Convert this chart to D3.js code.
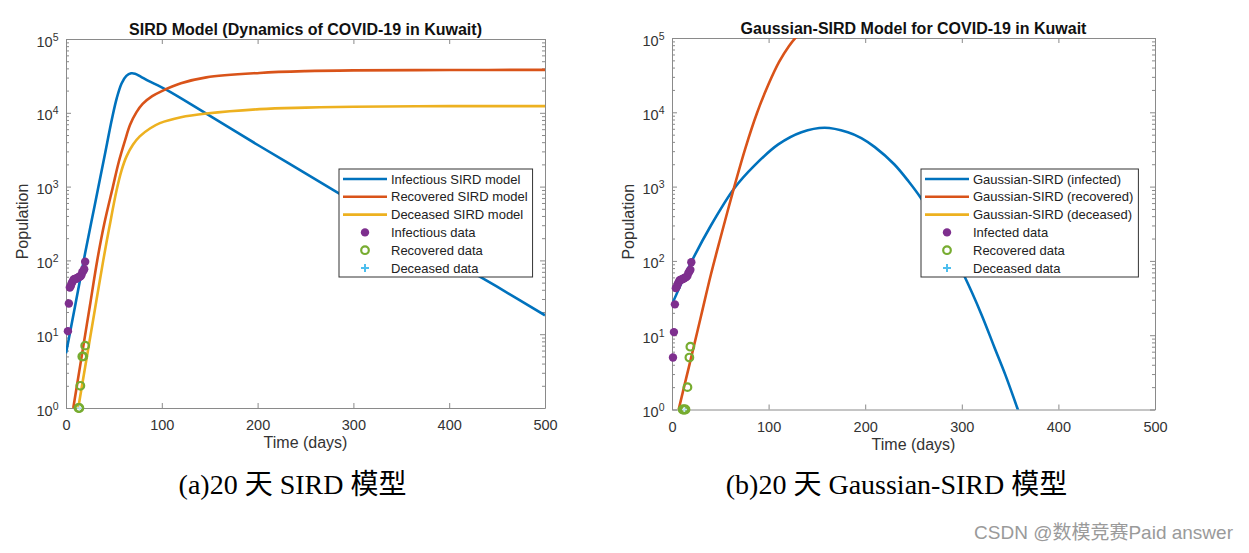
<!DOCTYPE html>
<html><head><meta charset="utf-8">
<script src="https://cdn.jsdelivr.net/npm/d3@7"></script>
<style>
html,body{margin:0;padding:0;background:#fff;}
svg{display:block;}
</style></head>
<body>
<svg id="chart" width="1249" height="553"></svg>
<script>
// ---------------- DATA ----------------
const xTicks = [0, 100, 200, 300, 400, 500];
const yDecades = [1, 10, 100, 1000, 10000, 100000];

// Panel (a): SIRD model
const sirdTitle = "SIRD Model (Dynamics of COVID-19 in Kuwait)";
const sirdLegend = ["Infectious SIRD model", "Recovered SIRD model", "Deceased SIRD model",
                    "Infectious data", "Recovered data", "Deceased data"];
const sirdInfT = [0, 10, 20, 30, 40, 48, 53, 58, 63, 68, 72, 78, 85, 105, 146, 202, 250, 300, 350, 400, 450, 500];
const sirdInfV = [5.5, 26, 126, 560, 2500, 8300, 15800, 25000, 31600, 34300, 33900, 30900, 27500, 20400, 9800, 3550, 1510, 620, 257, 105, 44, 18];
const sirdRecT = [7.6, 15, 20, 25, 32.6, 40, 49, 55, 61.5, 67, 73.6, 80, 90, 100, 120, 146.5, 202, 250, 300, 400, 500];
const sirdRecV = [1, 3.9, 9.8, 24.5, 100, 316, 1000, 2140, 4170, 6920, 10200, 13200, 16800, 19700, 25100, 30200, 34700, 36700, 37600, 38000, 38200];
const sirdDecT = [12.8, 20, 30, 38.9, 45, 52.8, 58, 63.2, 70, 77, 88, 98, 120, 146.5, 202, 250, 300, 400, 500];
const sirdDecV = [1, 3.6, 21, 100, 270, 890, 1660, 2570, 3720, 4790, 6170, 7240, 8710, 9770, 11200, 11750, 12100, 12300, 12300];
const sirdDataInfT = [2, 3, 4, 5, 6, 7, 8, 9, 10, 11, 12, 13, 14, 15, 16, 17, 18, 19, 20];
const sirdDataInfV = [11, 26, 43, 45, 49, 52, 55, 56, 56, 57, 58, 59, 60, 61, 63, 69, 72, 76, 96];
const sirdDataRecT = [13, 14, 15, 17, 18, 20];
const sirdDataRecV = [1, 1, 2, 5, 5, 7];
const sirdDataDecT = [14];
const sirdDataDecV = [1];

// Panel (b): Gaussian-SIRD model
const gaussTitle = "Gaussian-SIRD Model for COVID-19 in Kuwait";
const gaussLegend = ["Gaussian-SIRD (infected)", "Gaussian-SIRD (recovered)", "Gaussian-SIRD (deceased)",
                     "Infected data", "Recovered data", "Deceased data"];
const gaussInfT = [0, 19.4, 40, 64.5, 85, 110, 134, 158, 182, 196, 210, 230, 245, 258, 280, 302.5, 320, 333.7, 345, 358, 370];
const gaussInfV = [26, 93, 295, 950, 1900, 3700, 5400, 6200, 5400, 4500, 3400, 2000, 1170, 690, 235, 63, 19.5, 6.9, 2.95, 1, 0.35];
const gaussRecT = [6.9, 15, 20, 30, 40.2, 50, 64.5, 76, 88, 100, 111, 121, 131, 140];
const gaussRecV = [1, 2.75, 5.1, 18, 65, 200, 1000, 3300, 9800, 24000, 48000, 77600, 112000, 145000];
const gaussDecT = [];
const gaussDecV = [];
const gaussDataInfT = [1, 2, 3, 4, 5, 6, 7, 8, 9, 10, 11, 12, 13, 14, 15, 16, 17, 18, 19, 20];
const gaussDataInfV = [5, 11, 26, 43, 45, 49, 52, 55, 56, 56, 57, 58, 59, 60, 61, 63, 69, 72, 76, 96];
const gaussDataRecT = [11, 12, 13, 14, 16, 18, 19];
const gaussDataRecV = [1, 1, 1, 1, 2, 5, 7];
const gaussDataDecT = [13];
const gaussDataDecV = [1];

const captions = ["(a)20 天 SIRD 模型", "(b)20 天 Gaussian-SIRD 模型"];
const watermark = "CSDN @数模竞赛Paid answer";

// ---------------- STYLE ----------------
const C = {blue:"#0072BD", orange:"#D95319", yellow:"#EDB120", purple:"#7E2F8E", green:"#77AC30", cyan:"#4DBEEE"};
const FONT = "'Liberation Sans', Arial, sans-serif";

const svg = d3.select("#chart");

function zip(ts, vs){ return ts.map((t,i)=>({t, v: vs[i]})); }

function panel(cfg, id){
  const x = d3.scaleLinear().domain([0, 500]).range([cfg.x0, cfg.x1]);
  const y = d3.scaleLog().domain([1, 1e5]).range([cfg.yB, cfg.yT]);
  const g = svg.append("g");

  svg.append("clipPath").attr("id", "clip"+id).append("rect")
     .attr("x", cfg.x0).attr("y", cfg.yT).attr("width", cfg.x1-cfg.x0).attr("height", cfg.yB-cfg.yT);

  const minor = y.ticks().filter(v => !yDecades.includes(v));
  const axColor = "#8a8a8a";

  function styleAxis(sel){
    sel.select(".domain").attr("stroke", axColor).attr("stroke-width", 1);
    sel.selectAll(".tick line").attr("stroke", axColor).attr("stroke-width", 1);
    sel.selectAll(".tick text").attr("fill", "#333").style("font-family", FONT);
  }

  const xb = g.append("g").attr("transform", `translate(0,${cfg.yB})`)
    .call(d3.axisBottom(x).tickValues(xTicks).tickSizeInner(-5).tickSizeOuter(0).tickPadding(12).tickFormat(d3.format("d")));
  styleAxis(xb); xb.selectAll(".tick text").style("font-size", "14.5px");
  const xt = g.append("g").attr("transform", `translate(0,${cfg.yT})`)
    .call(d3.axisTop(x).tickValues(xTicks).tickSizeInner(-5).tickSizeOuter(0).tickFormat(""));
  styleAxis(xt);
  const yl = g.append("g").attr("transform", `translate(${cfg.x0},0)`)
    .call(d3.axisLeft(y).tickValues(yDecades).tickSizeInner(-5).tickSizeOuter(0).tickPadding(8).tickFormat(""));
  styleAxis(yl);
  yl.selectAll(".tick").each(function(d){
    const t = d3.select(this).select("text").text("").attr("dy", null).attr("y", 7)
       .attr("x", -7.5).attr("text-anchor", "end").style("font-size", "14.5px");
    t.append("tspan").text("10");
    t.append("tspan").text(Math.round(Math.log10(d))).attr("dy", -6).style("font-size", "10.5px");
  });
  const ylm = g.append("g").attr("transform", `translate(${cfg.x0},0)`)
    .call(d3.axisLeft(y).tickValues(minor).tickSizeInner(-3).tickSizeOuter(0).tickFormat(""));
  styleAxis(ylm); ylm.select(".domain").remove();
  const yr = g.append("g").attr("transform", `translate(${cfg.x1},0)`)
    .call(d3.axisRight(y).tickValues(yDecades).tickSizeInner(-5).tickSizeOuter(0).tickFormat(""));
  styleAxis(yr);
  const yrm = g.append("g").attr("transform", `translate(${cfg.x1},0)`)
    .call(d3.axisRight(y).tickValues(minor).tickSizeInner(-3).tickSizeOuter(0).tickFormat(""));
  styleAxis(yrm); yrm.select(".domain").remove();

  const line = d3.line().x(d => x(d.t)).y(d => y(d.v)).curve(d3.curveCatmullRom.alpha(0.5));
  const cg = g.append("g").attr("clip-path", `url(#clip${id})`);
  const curves = [[cfg.infT, cfg.infV, C.blue], [cfg.recT, cfg.recV, C.orange], [cfg.decT, cfg.decV, C.yellow]];
  curves.forEach(([ts, vs, col]) => {
    if (!ts.length) return;
    cg.append("path").datum(zip(ts, vs)).attr("d", line)
      .attr("fill", "none").attr("stroke", col).attr("stroke-width", 2.6).attr("stroke-linejoin", "round");
  });

  const mg = g.append("g");
  mg.selectAll("circle.inf").data(zip(cfg.dInfT, cfg.dInfV)).join("circle")
    .attr("cx", d => x(d.t)).attr("cy", d => y(d.v)).attr("r", 4.2).attr("fill", C.purple);
  mg.selectAll("circle.rec").data(zip(cfg.dRecT, cfg.dRecV)).join("circle")
    .attr("cx", d => x(d.t)).attr("cy", d => y(d.v)).attr("r", 3.8)
    .attr("fill", "none").attr("stroke", C.green).attr("stroke-width", 2.2);
  mg.selectAll("path.dec").data(zip(cfg.dDecT, cfg.dDecV)).join("path")
    .attr("d", d => `M${x(d.t)-2.5},${y(d.v)}h5M${x(d.t)},${y(d.v)-2.5}v5`)
    .attr("stroke", "#bfe6f5").attr("stroke-width", 1.3).attr("fill", "none");

  const cx = (cfg.x0 + cfg.x1) / 2;
  g.append("text").attr("x", cx).attr("y", cfg.yT - 4).attr("text-anchor", "middle")
    .style("font-family", FONT).style("font-weight", "bold").style("font-size", "16px").attr("fill", "#111")
    .text(cfg.title);
  g.append("text").attr("x", cx).attr("y", cfg.yB + 40).attr("text-anchor", "middle")
    .style("font-family", FONT).style("font-size", "16px").attr("fill", "#333").text("Time (days)");
  g.append("text").attr("transform", `translate(${cfg.x0 - 38},${(cfg.yT + cfg.yB) / 2 - 2}) rotate(-90)`)
    .attr("text-anchor", "middle")
    .style("font-family", FONT).style("font-size", "16px").attr("fill", "#333").text("Population");

  const lg = g.append("g").attr("transform", `translate(${cfg.lx},${cfg.ly})`);
  const box = lg.append("rect").attr("fill", "#fff").attr("stroke", "#333").attr("stroke-width", 1);
  let maxW = 0;
  cfg.legend.forEach((lab, i) => {
    const yy = 10 + i * 17.8;
    const tx = lg.append("text").attr("x", 52).attr("y", yy + 4.5)
      .style("font-family", FONT).style("font-size", "13px").attr("fill", "#222").text(lab);
    maxW = Math.max(maxW, tx.node().getComputedTextLength());
    if (i < 3) {
      lg.append("line").attr("x1", 4).attr("x2", 48).attr("y1", yy).attr("y2", yy)
        .attr("stroke", [C.blue, C.orange, C.yellow][i]).attr("stroke-width", 2.6);
    } else if (i === 3) {
      lg.append("circle").attr("cx", 26).attr("cy", yy).attr("r", 4.2).attr("fill", C.purple);
    } else if (i === 4) {
      lg.append("circle").attr("cx", 26).attr("cy", yy).attr("r", 3.8).attr("fill", "none")
        .attr("stroke", C.green).attr("stroke-width", 2.2);
    } else {
      lg.append("path").attr("d", `M22,${yy}h8M26,${yy-4}v8`).attr("stroke", C.cyan).attr("stroke-width", 2);
    }
  });
  box.attr("x", 0).attr("y", 0).attr("width", 52 + maxW + 5).attr("height", 108);
}

panel({x0:66, x1:545, yT:39, yB:408, title:sirdTitle, legend:sirdLegend, lx:339, ly:169,
  infT:sirdInfT, infV:sirdInfV, recT:sirdRecT, recV:sirdRecV, decT:sirdDecT, decV:sirdDecV,
  dInfT:sirdDataInfT, dInfV:sirdDataInfV, dRecT:sirdDataRecT, dRecV:sirdDataRecV, dDecT:sirdDataDecT, dDecV:sirdDataDecV}, "a");
panel({x0:672, x1:1155, yT:38, yB:409.5, title:gaussTitle, legend:gaussLegend, lx:921, ly:169,
  infT:gaussInfT, infV:gaussInfV, recT:gaussRecT, recV:gaussRecV, decT:gaussDecT, decV:gaussDecV,
  dInfT:gaussDataInfT, dInfV:gaussDataInfV, dRecT:gaussDataRecT, dRecV:gaussDataRecV, dDecT:gaussDataDecT, dDecV:gaussDataDecV}, "b");

const capX = [292.5, 896.5];
captions.forEach((c, i) => {
  svg.append("text").attr("x", capX[i]).attr("y", 494).attr("text-anchor", "middle")
    .style("font-family", "'Liberation Serif', 'Times New Roman', 'Noto Sans CJK SC', serif")
    .style("font-size", "28px").attr("fill", "#000").text(c);
});
svg.append("text").attr("x", 1233).attr("y", 539).attr("text-anchor", "end")
  .style("font-family", "'Liberation Sans', 'Noto Sans CJK SC', sans-serif")
  .style("font-size", "19px").attr("fill", "#9a9a9a").text(watermark);
</script>
</body></html>
